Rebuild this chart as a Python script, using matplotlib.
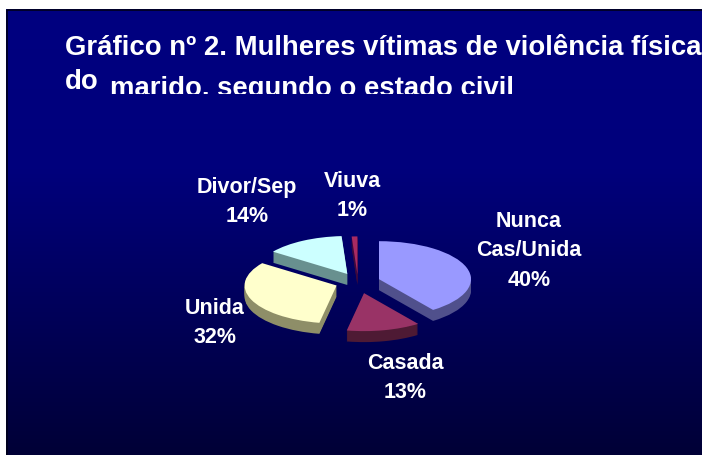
import matplotlib
matplotlib.use('Agg')
import matplotlib.pyplot as plt
import numpy as np
from matplotlib.transforms import Bbox

plt.rcParams['font.family'] = ['Liberation Sans', 'DejaVu Sans']

W, H = 702, 456

# Chart data
categories = ['Nunca\nCas/Unida', 'Casada', 'Unida', 'Divor/Sep', 'Viuva']
shares = [40, 13, 32, 14, 1]

# Styles and layout
top_colors = ['#9999ff', '#993366', '#ffffcc', '#ccffff', '#a82a62']
side_colors = ['#50508c', '#4e1a34', '#8e8e68', '#68908f', '#3a0a40']
explode = [0.24, 0.30, 0.25, 0.24, 0.2]
label_pos = [(529, 251), (405, 378), (215, 323), (247, 202), (352, 196)]

RX, RY = 92, 38      # ellipse radii in pixels
CX, CY = 358, 283    # pie centre in pixels
DEPTH = 11           # height of the pie side in pixels
SPAN = 1.4


def px(x):
    return x / W


def py(y):
    return 1 - y / H


fig = plt.figure(figsize=(W / 100, H / 100), dpi=100, facecolor='white')

# Slide background with vertical gradient
bg = fig.add_axes([px(6), 0, 1 - px(6), py(10)])
rows = np.arange(10, H)
blue = np.interp(rows, [10, 170, H], [128, 124, 54])
grad = np.zeros((len(rows), 1, 3))
grad[:, 0, 2] = blue / 255
bg.imshow(grad, aspect='auto', interpolation='bilinear')
bg.axis('off')

# Dark edge of the slide
edge = fig.add_axes([0, 0, 1, 1], facecolor='none')
edge.set_xlim(0, W)
edge.set_ylim(H, 0)
edge.axis('off')
edge.plot([6.5, 6.5, W], [H, 10.5, 10.5], color='#00001a', lw=1.2)

# Squashed pie: stack darker copies downwards to fake the 3D side
ax = fig.add_axes([px(CX - SPAN * RX), py(CY + SPAN * RY), 2 * SPAN * RX / W, 2 * SPAN * RY / H],
                  facecolor='none')
for i in range(DEPTH, 0, -1):
    ax.pie(shares, explode=explode, colors=side_colors, startangle=90, counterclock=False,
           center=(0, -i / RY), radius=1, frame=False)
ax.pie(shares, explode=explode, colors=top_colors, startangle=90, counterclock=False,
       center=(0, 0), radius=1, frame=False)
ax.set_aspect('auto')
ax.set_xlim(-SPAN, SPAN)
ax.set_ylim(-SPAN, SPAN)

# Slice labels
for name, share, (x, y) in zip(categories, shares, label_pos):
    edge.text(x, y, f'{name}\n{share}%', color='white', fontsize=15.5, fontweight='bold',
              ha='center', va='center', linespacing=1.52)

# Title, second line is cut off at the bottom as in the source slide
edge.text(65, 48, 'Gráfico nº 2. Mulheres vítimas de violência física', color='white',
          fontsize=19.8, fontweight='bold', ha='left', va='center')
edge.text(65, 82, 'do', color='white', fontsize=19.8, fontweight='bold', ha='left', va='center')
line2 = edge.text(110, 89, 'marido, segundo o estado civil', color='white', fontsize=19.8,
                  fontweight='bold', ha='left', va='center')
line2.set_clip_box(Bbox([[0, py(95) * H], [W, H]]))
line2.set_clip_on(True)

fig.savefig('out.png', dpi=100, facecolor='white')
